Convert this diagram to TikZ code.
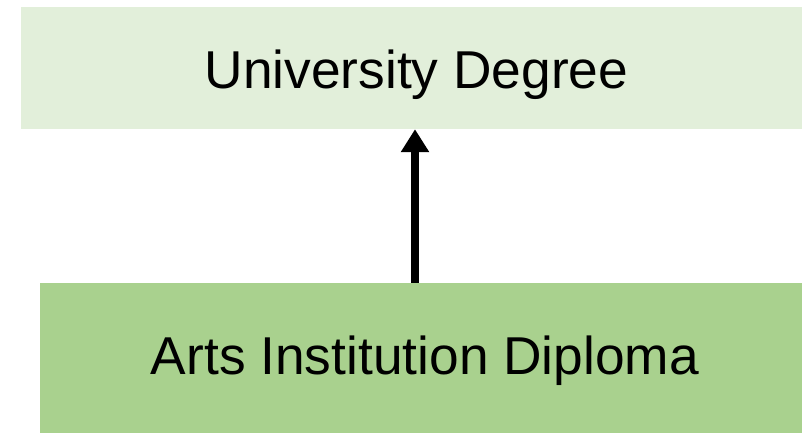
\documentclass[tikz,border=0pt]{standalone}
\usepackage{fontspec}
\setmainfont{Liberation Sans}
\usetikzlibrary{arrows.meta, positioning}
\definecolor{palegreen}{HTML}{E2EFDA}
\definecolor{midgreen}{HTML}{A9D18E}

\begin{document}
\begin{tikzpicture}[x=1pt, y=-1pt,
    stagebox/.style={inner sep=0pt},
    stagetext/.style={inner sep=0pt, font=\fontsize{53.3}{60}\selectfont}]
    \useasboundingbox (0, 0) rectangle (802, 433);

    \node[stagebox, fill=palegreen, minimum width=781pt, minimum height=122pt] (degree) at (411.5, 68) {};
    \node[stagebox, fill=midgreen, minimum width=762pt, minimum height=150pt] (diploma) at (421, 358) {};

    \node[stagetext] (degreetext) at (416.5, 75) {University Degree};
    \node[stagetext] (diplomatext) at (425, 361) {Arts Institution Diploma};

    \coordinate (arrowx) at (415, 0);
    \draw[line width=8pt, -{Triangle[width=27pt, length=23pt]}]
    (diploma.north -| arrowx) -- (degree.south -| arrowx);
\end{tikzpicture}
\end{document}
